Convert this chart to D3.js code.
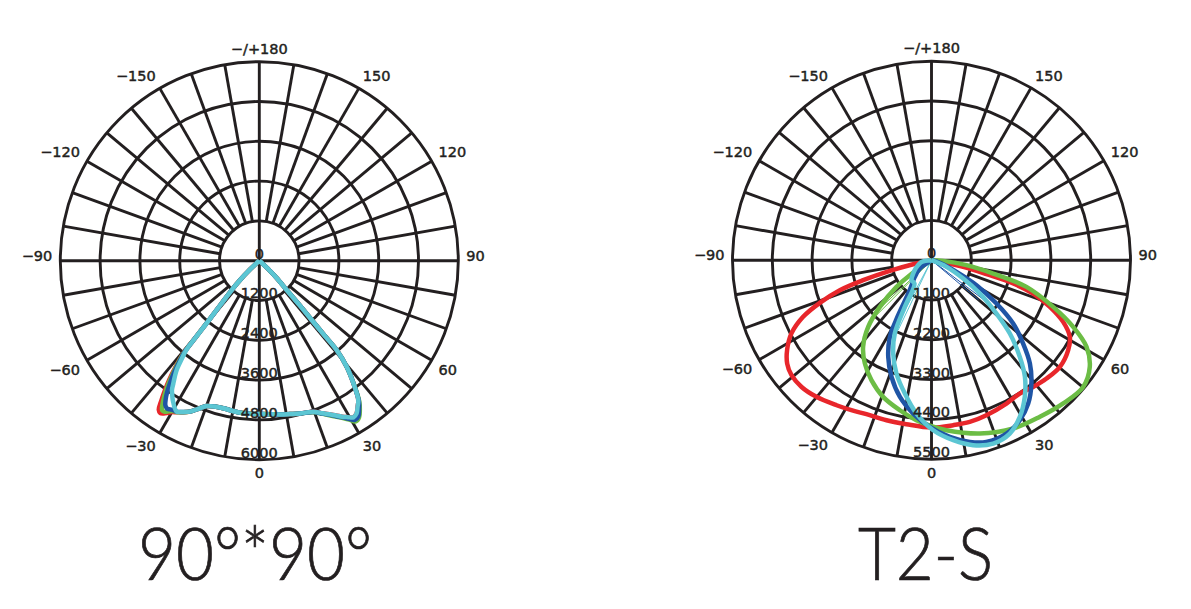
<!DOCTYPE html>
<html><head><meta charset="utf-8">
<script src="https://cdn.jsdelivr.net/npm/d3@7"></script>
<style>html,body{margin:0;padding:0;background:#fff;} svg{display:block;}</style>
</head><body>
<svg id="c" width="1191" height="609"></svg>
<script>
// ---- tick data ----
const angleTickValues = [0, 30, 60, 90, 120, 150, 180, -150, -120, -90, -60, -30];
const angleTickLabels = ["0", "30", "60", "90", "120", "150", "\u2212/+180", "\u2212150", "\u2212120", "\u221290", "\u221260", "\u221230"];
const ringTicks90 = [0, 1200, 2400, 3600, 4800, 6000];
const ringTicksT2S = [0, 1100, 2200, 3300, 4400, 5500];
const titles = ["90°*90°", "T2-S"];
const seriesNames = ["C0", "C90", "C180", "C270"];
const seriesColors = ["#e8262b", "#6cbd45", "#1f55a5", "#5cc6d3"];

// ---- 90°*90° (shared angles, degrees) ----
const angles90 = [-48,-46.5,-45,-43.3,-41.3,-40.3,-39.7,-39.3,-38.3,-37.1,-36,-35,-34,-33,-32,-31,-30,-28.7,-27,-24.7,
  -22,-19.9,-17,-13.7,-10,-7,-4,0,4,8,11.3,15,19.7,22.5,25.6,28,29.5,31,32.5,34,
  35.4,37.5,39.5,40.9,41.1,41.5,42.2,43.1,45,46.5,48];
const red90 = [0,450,800,1215,1778,2345,3000,3650,4050,4500,4850,5150,5420,5478,5430,5350,5270,5210,5130,5009,
  4800,4659,4600,4580,4600,4620,4622,4622,4640,4680,4714,4770,4835,4980,5160,5330,5420,5510,5460,5300,
  5153,4658,4142,3563,2970,2386,1800,1210,750,420,0];
const green90 = [0,450,800,1215,1778,2345,2980,3600,4000,4400,4750,5000,5220,5378,5370,5300,5230,5200,5125,5009,
  4800,4659,4600,4580,4600,4620,4622,4622,4640,4680,4714,4770,4850,5000,5200,5370,5500,5650,5600,5420,
  5200,4680,4150,3563,2970,2386,1800,1210,750,420,0];
const blue90 = [0,450,800,1215,1778,2345,2950,3550,3900,4300,4600,4850,5050,5200,5253,5230,5200,5190,5120,5009,
  4800,4659,4600,4580,4600,4620,4622,4622,4640,4680,4714,4770,4845,4990,5180,5350,5480,5600,5560,5380,
  5180,4670,4145,3563,2970,2386,1800,1210,750,420,0];
const cyan90 = [0,450,800,1215,1778,2345,2911,3477,3770,4130,4340,4520,4709,4820,4930,5020,5110,5189,5120,5009,
  4800,4659,4600,4580,4600,4620,4622,4622,4640,4680,4714,4770,4835,4980,5160,5330,5420,5510,5460,5300,
  5153,4658,4142,3563,2970,2386,1800,1210,750,420,0];

// ---- T2-S (each series: angles in path order, values) ----
const redT2SAngles = [-81,-77.7,-75.6,-73.7,-71.9,-69.1,-66.2,-62.4,-58.1,-54.4,-50.6,-45.7,-40.1,-33.2,-28.1,-22.9,-15.7,-8.7,0,7.5,
  13.3,19.5,27.6,33.5,38.7,44.2,50.3,56.6,61,64.9,68.5,71.8,74.1,75.7,78.1,80.3,82];
const redT2S = [0,519,1189,1968,2666,3304,3878,4368,4701,4906,5007,5017,4937,4791,4699,4620,4594,4585,4625,4599,
  4592,4546,4471,4420,4489,4561,4612,4523,4371,4018,3516,2957,2347,1569,894,327,0];
const greenT2SAngles = [-58,-55.3,-52.7,-47.9,-43.5,-38.3,-32.8,-26.6,-19.5,-11.9,-5.4,0,5,15.6,25.9,34.7,42.6,50.1,56,60.8,
  64.8,69,74.3,77.8,81.9,86.7,89];
const greenT2S = [0,728,1216,1924,2542,3050,3399,3708,4007,4238,4441,4588,4717,4973,5171,5264,5379,5462,5276,4909,
  4327,3602,2727,1744,977,323,0];
const blueT2SAngles = [-58,-54.6,-45,-36,-31,-28.5,-24.1,-18.9,-13,-6.8,-0.6,5.9,11.9,16.8,23.4,28.9,34,39,43.6,47.7,
  52.2,56.3,60.9,65,72.3,76];
const blueT2S = [0,396,652,1023,1830,2412,2928,3409,3878,4268,4607,4909,5132,5246,5220,5051,4779,4388,3943,3424,
  2856,2159,1423,763,242,0];
const cyanT2SAngles = [-84,-80,-62,-54,-45,-36,-29.7,-26.6,-22.3,-17.2,-11.3,-5.6,0.6,6.9,12.7,18.6,24.3,29.4,34.3,38.7,
  42.4,46.9,50.6,55.4,59.9,66,70];
const cyanT2S = [0,280,500,625,780,800,1487,2266,2789,3278,3759,4258,4699,5011,5241,5346,5257,4971,4574,4129,
  3619,2966,2324,1623,1011,454,0];
// thin single-direction spikes seen near the T2-S origin: [series index, angle, value]
const spikeSeriesT2S = [1, 1, 3, 3, 2, 2];
const spikeAnglesT2S = [-45, -47, -25.5, -28, 52.9, 50];
const spikeValuesT2S = [2400, 2100, 2140, 1950, 2140, 1700];

const zip = (a, v) => a.map((x, i) => [x, v[i]]);

const charts = [
  { cx: 259.3, cy: 260.7, ticks: ringTicks90, title: titles[0], tx: 255, spikes: [],
    series: [zip(angles90, red90), zip(angles90, green90), zip(angles90, blue90), zip(angles90, cyan90)] },
  { cx: 931.5, cy: 260.2, ticks: ringTicksT2S, title: titles[1], tx: 925.5,
    spikes: spikeAnglesT2S.map((a, i) => ({ s: spikeSeriesT2S[i], a, v: spikeValuesT2S[i] })),
    series: [zip(redT2SAngles, redT2S), zip(greenT2SAngles, greenT2S), zip(blueT2SAngles, blueT2S), zip(cyanT2SAngles, cyanT2S)] }
];

const svg = d3.select("#c");
const R = 199;
const ink = "#231f20";
const rad = d => d * Math.PI / 180;

charts.forEach(ch => {
  const g = svg.append("g").attr("transform", `translate(${ch.cx},${ch.cy})`);
  const r = d3.scaleLinear().domain([0, ch.ticks[ch.ticks.length - 1]]).range([0, R]);
  const inner = r(ch.ticks[1]);

  // rings
  g.append("g").selectAll("circle").data(ch.ticks.slice(1)).join("circle")
    .attr("r", d => r(d)).attr("fill", "none").attr("stroke", ink).attr("stroke-width", 2.9);

  // spokes
  g.append("g").selectAll("line").data(d3.range(0, 360, 10)).join("line")
    .attr("x1", d => (d % 90 === 0 ? 0 : inner) * Math.sin(rad(d)))
    .attr("y1", d => (d % 90 === 0 ? 0 : inner) * Math.cos(rad(d)))
    .attr("x2", d => R * Math.sin(rad(d)))
    .attr("y2", d => R * Math.cos(rad(d)))
    .attr("stroke", ink).attr("stroke-width", 2.9);

  // angle labels
  const lp = R + 8;
  g.append("g").selectAll("text").data(angleTickValues).join("text")
    .attr("x", d => lp * Math.sin(rad(d)))
    .attr("y", d => lp * Math.cos(rad(d)))
    .attr("dy", d => Math.cos(rad(d)) > 0.01 ? "0.74em" : "0")
    .attr("text-anchor", d => (d === 0 || d === 180) ? "middle" : (d > 0 ? "start" : "end"))
    .attr("font-family", "DejaVu Sans").attr("font-size", 14.5).attr("fill", ink)
    .attr("stroke", ink).attr("stroke-width", 0.45)
    .text((d, i) => angleTickLabels[i]);

  // thin spikes
  g.append("g").selectAll("line").data(ch.spikes).join("line")
    .attr("x1", 0).attr("y1", 0)
    .attr("x2", d => r(d.v) * Math.sin(rad(d.a)))
    .attr("y2", d => r(d.v) * Math.cos(rad(d.a)))
    .attr("stroke", d => seriesColors[d.s]).attr("stroke-width", 1);

  // curves
  const line = d3.lineRadial()
    .angle(d => Math.PI - rad(d[0]))
    .radius(d => r(d[1]))
    .curve(d3.curveCatmullRom.alpha(0.5));
  g.append("g").selectAll("path").data(ch.series).join("path")
    .attr("d", d => line(d))
    .attr("fill", "none")
    .attr("stroke", (d, i) => seriesColors[i])
    .attr("stroke-width", 4.5)
    .attr("stroke-linejoin", "round");

  // ring labels
  g.append("g").selectAll("text").data(ch.ticks).join("text")
    .attr("x", 0).attr("y", d => r(d) - 2)
    .attr("text-anchor", "middle")
    .attr("font-family", "DejaVu Sans").attr("font-size", 14.5).attr("fill", ink)
    .attr("stroke", ink).attr("stroke-width", 0.45)
    .text(d => d);

  // title
  svg.append("g").attr("transform", `translate(${ch.tx},580) scale(0.91,1)`)
    .append("text").attr("x", 0).attr("y", 0)
    .attr("text-anchor", "middle")
    .attr("font-family", "Lato").attr("font-weight", 300).attr("font-size", 72)
    .attr("fill", ink).attr("stroke", ink).attr("stroke-width", 0.75)
    .text(ch.title);
});
</script>
</body></html>
